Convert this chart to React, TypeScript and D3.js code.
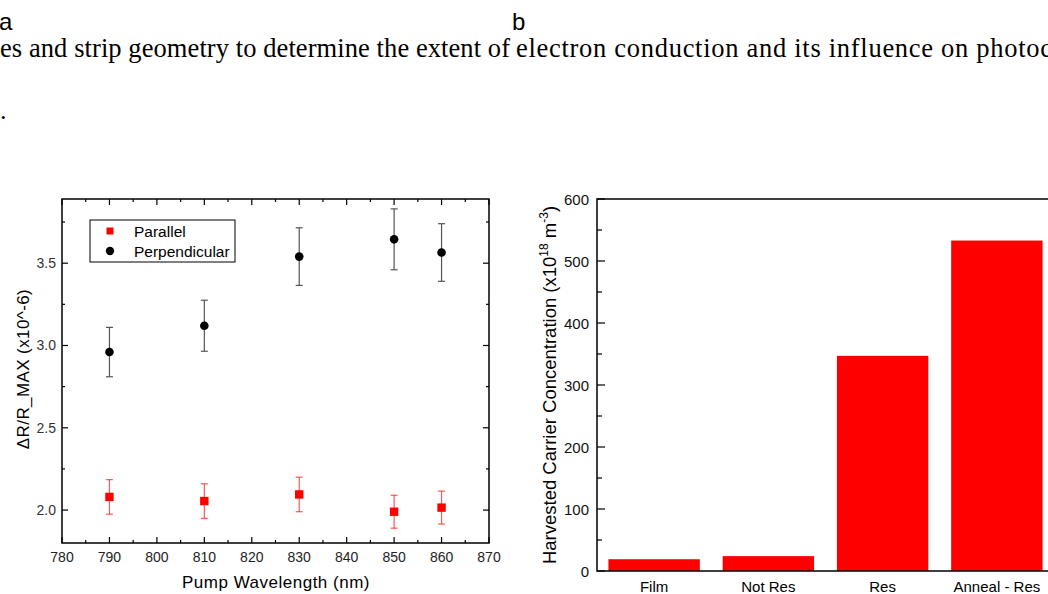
import React from "react";
import * as d3 from "d3";

// panel a: pump wavelength scan
const wavelengths = [790, 810, 830, 850, 860];
const parallelValues = [2.08, 2.055, 2.095, 1.99, 2.015];
const parallelErrors = [0.105, 0.105, 0.105, 0.1, 0.1];
const perpendicularValues = [2.96, 3.12, 3.54, 3.645, 3.565];
const perpendicularErrors = [0.15, 0.155, 0.175, 0.185, 0.175];
const xTicksA = [780, 790, 800, 810, 820, 830, 840, 850, 860, 870];
const yTicksA = [2.0, 2.5, 3.0, 3.5];

// panel b: harvested carriers
const categories = ["Film", "Not Res", "Res", "Anneal - Res"];
const carrierValues = [19, 24, 347, 533];
const yTicksB = [0, 100, 200, 300, 400, 500, 600];

const SANS = "Arial, 'Liberation Sans', sans-serif";
const SERIF = "'Times New Roman', 'Liberation Serif', serif";
const RED = "#ff0000";

const A = { left: 62, right: 489, top: 199, bottom: 543 };
const B = { left: 597, right: 1054, top: 199, bottom: 571 };

const App = () => {
  const xA = d3.scaleLinear().domain([780, 870]).range([A.left, A.right]);
  const yA = d3.scaleLinear().domain([1.8, 3.89]).range([A.bottom, A.top]);
  const xMinorA = d3.range(785, 870, 10);
  const yMinorA = d3.range(1.75, 3.9, 0.5).filter((v) => v > 1.8);

  const xB = d3
    .scaleBand()
    .domain(categories)
    .range([B.left, B.right])
    .paddingInner(0.2)
    .paddingOuter(0.1);
  const yB = d3.scaleLinear().domain([0, 600]).range([B.bottom, B.top]);
  const yMinorB = d3.range(50, 600, 100);

  const errBar = (x: number, v: number, e: number, color: string, key: string) => (
    <g key={key} stroke={color} strokeWidth={1.2}>
      <line x1={x} x2={x} y1={yA(v - e)} y2={yA(v + e)} />
      <line x1={x - 3.5} x2={x + 3.5} y1={yA(v - e)} y2={yA(v - e)} />
      <line x1={x - 3.5} x2={x + 3.5} y1={yA(v + e)} y2={yA(v + e)} />
    </g>
  );

  return (
    <svg
      width={1048}
      height={594}
      style={{ position: "absolute", left: 0, top: 0, background: "#fff" }}
    >
      {/* surrounding page text */}
      <text x={-1} y={30} fontFamily={SANS} fontSize={24}>a</text>
      <text x={512} y={30} fontFamily={SANS} fontSize={24}>b</text>
      <text x={0} y={57} fontFamily={SERIF} fontSize={26.5} textLength={510} lengthAdjust="spacing">
        es and strip geometry to determine the extent of
      </text>
      <text x={516} y={57} fontFamily={SERIF} fontSize={26.5} textLength={536} lengthAdjust="spacing">
        electron conduction and its influence on photoc
      </text>
      <text x={0} y={119} fontFamily={SERIF} fontSize={26}>.</text>

      {/* ---- panel a ---- */}
      <g fontFamily={SANS}>
        {/* ticks, all inward on four sides */}
        <g stroke="#000" strokeWidth={1.2}>
          {xTicksA.map((t) => (
            <g key={"xt" + t}>
              <line x1={xA(t)} x2={xA(t)} y1={A.bottom} y2={A.bottom - 6} />
              <line x1={xA(t)} x2={xA(t)} y1={A.top} y2={A.top + 6} />
            </g>
          ))}
          {xMinorA.map((t) => (
            <g key={"xm" + t}>
              <line x1={xA(t)} x2={xA(t)} y1={A.bottom} y2={A.bottom - 3} />
              <line x1={xA(t)} x2={xA(t)} y1={A.top} y2={A.top + 3} />
            </g>
          ))}
          {yTicksA.map((t) => (
            <g key={"yt" + t}>
              <line x1={A.left} x2={A.left + 6} y1={yA(t)} y2={yA(t)} />
              <line x1={A.right} x2={A.right - 6} y1={yA(t)} y2={yA(t)} />
            </g>
          ))}
          {yMinorA.map((t) => (
            <g key={"ym" + t}>
              <line x1={A.left} x2={A.left + 3} y1={yA(t)} y2={yA(t)} />
              <line x1={A.right} x2={A.right - 3} y1={yA(t)} y2={yA(t)} />
            </g>
          ))}
        </g>
        <rect
          x={A.left}
          y={A.top}
          width={A.right - A.left}
          height={A.bottom - A.top}
          fill="none"
          stroke="#000"
          strokeWidth={1.5}
        />
        {xTicksA.map((t) => (
          <text key={"xl" + t} x={xA(t)} y={562} textAnchor="middle" fontSize={14} fill="#222">
            {t}
          </text>
        ))}
        {yTicksA.map((t) => (
          <text key={"yl" + t} x={56} y={yA(t) + 5} textAnchor="end" fontSize={14} fill="#333">
            {t.toFixed(1)}
          </text>
        ))}
        <text x={276} y={588} textAnchor="middle" fontSize={17} letterSpacing={0.5}>
          Pump Wavelength (nm)
        </text>
        <text
          transform="translate(29,369) rotate(-90)"
          textAnchor="middle"
          fontSize={17}
          letterSpacing={0.4}
        >
          ΔR/R_MAX (x10^-6)
        </text>

        {/* data */}
        {wavelengths.map((w, i) =>
          errBar(xA(w), perpendicularValues[i], perpendicularErrors[i], "#555", "pe" + i)
        )}
        {wavelengths.map((w, i) =>
          errBar(xA(w), parallelValues[i], parallelErrors[i], "rgba(255,0,0,0.65)", "pa" + i)
        )}
        {wavelengths.map((w, i) => (
          <circle key={"pc" + i} cx={xA(w)} cy={yA(perpendicularValues[i])} r={4.3} fill="#000" />
        ))}
        {wavelengths.map((w, i) => (
          <rect
            key={"ps" + i}
            x={xA(w) - 4.2}
            y={yA(parallelValues[i]) - 4.2}
            width={8.4}
            height={8.4}
            fill={RED}
          />
        ))}

        {/* legend */}
        <rect x={90} y={220} width={145} height={42} fill="#fff" stroke="#000" strokeWidth={1} />
        <rect x={106.5} y={227.5} width={7} height={7} fill={RED} />
        <circle cx={110} cy={251} r={4.2} fill="#000" />
        <text x={134} y={236.5} fontSize={15.5}>Parallel</text>
        <text x={134} y={256.5} fontSize={15.5}>Perpendicular</text>
      </g>

      {/* ---- panel b ---- */}
      <g fontFamily={SANS}>
        {categories.map((c, i) => (
          <rect
            key={"bar" + c}
            x={xB(c)}
            y={yB(carrierValues[i])}
            width={xB.bandwidth()}
            height={B.bottom - yB(carrierValues[i])}
            fill={RED}
          />
        ))}
        <g stroke="#000" strokeWidth={1.2}>
          {yTicksB.map((t) => (
            <line key={"bt" + t} x1={B.left} x2={B.left + 8} y1={yB(t)} y2={yB(t)} />
          ))}
          {yMinorB.map((t) => (
            <line key={"bm" + t} x1={B.left} x2={B.left + 5} y1={yB(t)} y2={yB(t)} />
          ))}
        </g>
        <rect
          x={B.left}
          y={B.top}
          width={B.right - B.left}
          height={B.bottom - B.top}
          fill="none"
          stroke="#000"
          strokeWidth={1.5}
        />
        {yTicksB.map((t) => (
          <text key={"bl" + t} x={589} y={yB(t) + 5.5} textAnchor="end" fontSize={15} fill="#111">
            {t}
          </text>
        ))}
        {categories.map((c) => (
          <text
            key={"cl" + c}
            x={(xB(c) as number) + xB.bandwidth() / 2}
            y={592}
            textAnchor="middle"
            fontSize={15}
          >
            {c}
          </text>
        ))}
        <text
          transform="translate(556,385) rotate(-90)"
          textAnchor="middle"
          fontSize={18.5}
        >
          Harvested Carrier Concentration (x10
          <tspan fontSize={12} dy={-8}>18</tspan>
          <tspan dy={8}> m</tspan>
          <tspan fontSize={12} dy={-8}>-3</tspan>
          <tspan dy={8}>)</tspan>
        </text>
      </g>
    </svg>
  );
};

export default App;
